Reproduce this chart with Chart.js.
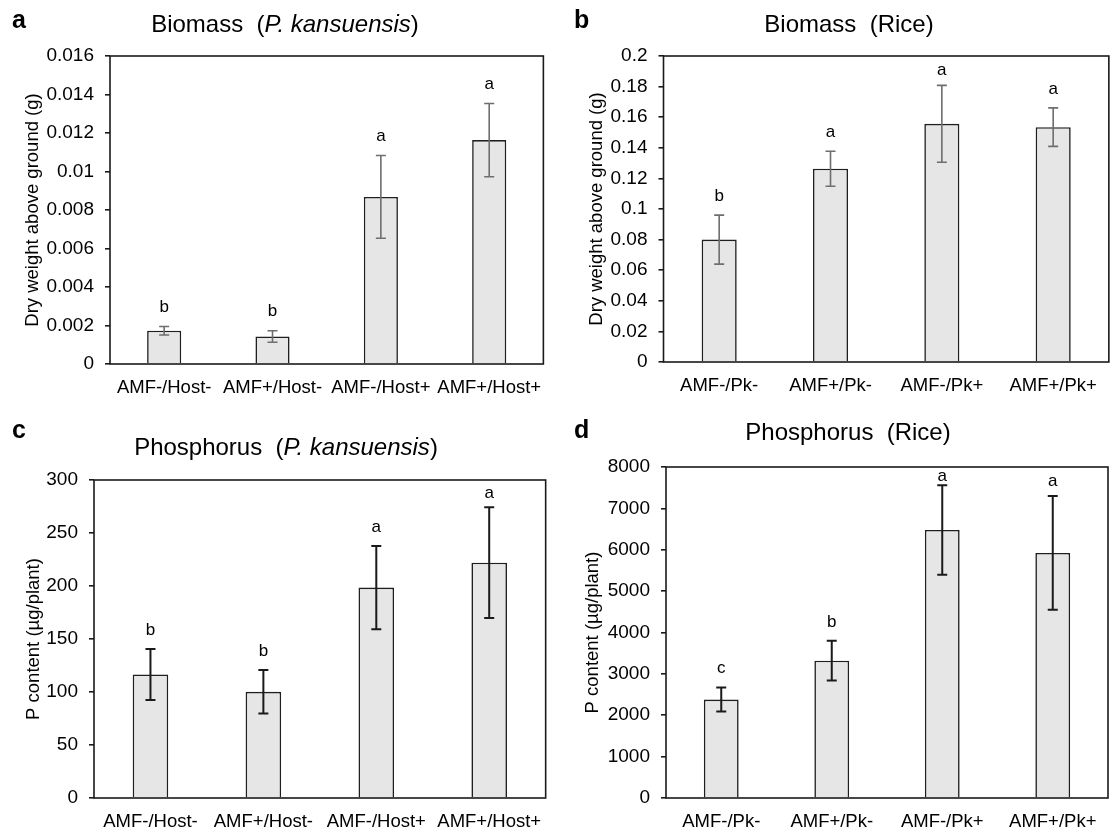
<!DOCTYPE html>
<html>
<head>
<meta charset="utf-8">
<script src="https://cdn.jsdelivr.net/npm/chart.js@4.4.1/dist/chart.umd.min.js"></script>
<style>
  body { margin: 0; background: #fff; }
  #wrap { position: relative; width: 1110px; height: 831px; font-family: "Liberation Sans", Arial, sans-serif; color: #000; }
  #wrap canvas { position: absolute; }
  .tag { position: absolute; font-weight: bold; font-size: 25px; line-height: 1; }
  .ttl { position: absolute; font-size: 24px; line-height: 1; white-space: nowrap; transform: translate(-50%, -50%); }
</style>
</head>
<body>
<div id="wrap">
  <canvas id="chartA" width="555" height="415" style="left:0;top:0"></canvas>
  <canvas id="chartB" width="555" height="415" style="left:555px;top:0"></canvas>
  <canvas id="chartC" width="555" height="416" style="left:0;top:415px"></canvas>
  <canvas id="chartD" width="555" height="416" style="left:555px;top:415px"></canvas>

  <div class="tag" style="left:12px;top:7px">a</div>
  <div class="tag" style="left:574px;top:7px">b</div>
  <div class="tag" style="left:12px;top:417px">c</div>
  <div class="tag" style="left:574px;top:417px">d</div>

  <div class="ttl" style="left:285px;top:24px">Biomass&nbsp; (<i>P. kansuensis</i>)</div>
  <div class="ttl" style="left:849px;top:24px">Biomass&nbsp; (Rice)</div>
  <div class="ttl" style="left:286px;top:447px">Phosphorus&nbsp; (<i>P. kansuensis</i>)</div>
  <div class="ttl" style="left:848px;top:432px">Phosphorus&nbsp; (Rice)</div>
</div>
<script>
// categories
const hostLabels = ['AMF-/Host-', 'AMF+/Host-', 'AMF-/Host+', 'AMF+/Host+'];
const pkLabels = ['AMF-/Pk-', 'AMF+/Pk-', 'AMF-/Pk+', 'AMF+/Pk+'];

// a: biomass P. kansuensis
const biomassPk = [0.00173, 0.00143, 0.00868, 0.01163];
const biomassPkErr = [0.00022, 0.0003, 0.00215, 0.0019];
const biomassPkLetters = ['b', 'b', 'a', 'a'];
const biomassPkTicks = ['0', '0.002', '0.004', '0.006', '0.008', '0.01', '0.012', '0.014', '0.016'];

// b: biomass rice
const biomassRice = [0.0800, 0.1263, 0.1557, 0.1535];
const biomassRiceErr = [0.016, 0.0114, 0.0251, 0.0126];
const biomassRiceLetters = ['b', 'a', 'a', 'a'];
const biomassRiceTicks = ['0', '0.02', '0.04', '0.06', '0.08', '0.1', '0.12', '0.14', '0.16', '0.18', '0.2'];

// c: phosphorus P. kansuensis
const phosPk = [116.5, 100.2, 198.5, 222.0];
const phosPkErr = [24, 20.6, 39.3, 52.3];
const phosPkLetters = ['b', 'b', 'a', 'a'];
const phosPkTicks = ['0', '50', '100', '150', '200', '250', '300'];

// d: phosphorus rice
const phosRice = [2380, 3320, 6479, 5924];
const phosRiceErr = [290, 478, 1081, 1375];
const phosRiceLetters = ['c', 'b', 'a', 'a'];
const phosRiceTicks = ['0', '1000', '2000', '3000', '4000', '5000', '6000', '7000', '8000'];

const FONT = '"Liberation Sans", Arial, sans-serif';
Chart.defaults.font.family = FONT;
Chart.defaults.color = '#000';

// frame around the plot, error bars and significance letters
const frameAndErrors = {
    id: 'frameAndErrors',
    afterDatasetsDraw(chart, args, opts) {
        const { ctx, chartArea: area } = chart;
        const y = chart.scales.y;
        const meta = chart.getDatasetMeta(0);
        ctx.save();
        meta.data.forEach((bar, i) => {
            const v = opts.values[i];
            const e = opts.errors[i];
            const yt = y.getPixelForValue(v + e);
            const yb = y.getPixelForValue(v - e);
            ctx.strokeStyle = opts.errColor;
            ctx.lineWidth = opts.errWidth;
            ctx.beginPath();
            ctx.moveTo(bar.x, yt); ctx.lineTo(bar.x, yb);
            ctx.moveTo(bar.x - 5, yt); ctx.lineTo(bar.x + 5, yt);
            ctx.moveTo(bar.x - 5, yb); ctx.lineTo(bar.x + 5, yb);
            ctx.stroke();

            const off = Math.min(19, (yt - area.top) / 2);
            ctx.fillStyle = '#000';
            ctx.font = '17px ' + FONT;
            ctx.textAlign = 'center';
            ctx.textBaseline = 'middle';
            ctx.fillText(opts.letters[i], bar.x, yt - off);
        });
        ctx.strokeStyle = '#1a1a1a';
        ctx.lineWidth = 1.6;
        ctx.strokeRect(area.left, area.top, area.right - area.left, area.bottom - area.top);
        ctx.restore();
    }
};

function makeChart(id, cfg) {
    return new Chart(document.getElementById(id), {
        type: 'bar',
        data: {
            labels: cfg.labels,
            datasets: [{
                data: cfg.values,
                backgroundColor: '#e6e6e6',
                borderColor: '#1f1f1f',
                borderWidth: 1.6,
                categoryPercentage: 1,
                barPercentage: 0.315
            }]
        },
        options: {
            responsive: false,
            animation: false,
            events: [],
            layout: { padding: { top: cfg.padTop, right: cfg.padRight, left: 0, bottom: 0 } },
            plugins: {
                legend: { display: false },
                tooltip: { enabled: false },
                frameAndErrors: {
                    values: cfg.values,
                    errors: cfg.errors,
                    letters: cfg.letters,
                    errColor: cfg.errColor,
                    errWidth: cfg.errWidth
                }
            },
            scales: {
                x: {
                    grid: { display: false, drawTicks: false },
                    border: { display: false },
                    ticks: { font: { size: 18.5 }, padding: 13, maxRotation: 0, autoSkip: false },
                    afterFit: s => { s.height = cfg.xHeight; }
                },
                y: {
                    min: 0,
                    max: cfg.max,
                    ticks: {
                        stepSize: cfg.step,
                        font: { size: 19 },
                        padding: 11,
                        callback: (v, i) => cfg.ticks[i]
                    },
                    grid: { drawOnChartArea: false, drawTicks: true, tickLength: 5, color: '#1a1a1a', lineWidth: 1.6 },
                    border: { display: false },
                    title: {
                        display: true,
                        text: cfg.yTitle,
                        font: { size: 18.5 },
                        padding: { top: cfg.titlePad, bottom: 0 }
                    },
                    afterFit: s => { s.width = cfg.yWidth; }
                }
            }
        },
        plugins: [frameAndErrors]
    });
}

makeChart('chartA', {
    labels: hostLabels, values: biomassPk, errors: biomassPkErr, letters: biomassPkLetters,
    ticks: biomassPkTicks, max: 0.016, step: 0.002,
    yTitle: 'Dry weight above ground (g)',
    padTop: 56, padRight: 7, yWidth: 110, xHeight: 51, titlePad: 22,
    errColor: '#6e6e6e', errWidth: 1.6
});

makeChart('chartB', {
    labels: pkLabels, values: biomassRice, errors: biomassRiceErr, letters: biomassRiceLetters,
    ticks: biomassRiceTicks, max: 0.2, step: 0.02,
    yTitle: 'Dry weight above ground (g)',
    padTop: 56, padRight: 1, yWidth: 108.5, xHeight: 53, titlePad: 31,
    errColor: '#6e6e6e', errWidth: 1.6
});

makeChart('chartC', {
    labels: hostLabels, values: phosPk, errors: phosPkErr, letters: phosPkLetters,
    ticks: phosPkTicks, max: 300, step: 50,
    yTitle: 'P content (µg/plant)',
    padTop: 65, padRight: 7, yWidth: 94, xHeight: 33, titlePad: 23,
    errColor: '#1a1a1a', errWidth: 2
});

makeChart('chartD', {
    labels: pkLabels, values: phosRice, errors: phosRiceErr, letters: phosRiceLetters,
    ticks: phosRiceTicks, max: 8000, step: 1000,
    yTitle: 'P content (µg/plant)',
    padTop: 52, padRight: 2, yWidth: 111, xHeight: 33, titlePad: 27,
    errColor: '#1a1a1a', errWidth: 2
});
</script>
</body>
</html>
